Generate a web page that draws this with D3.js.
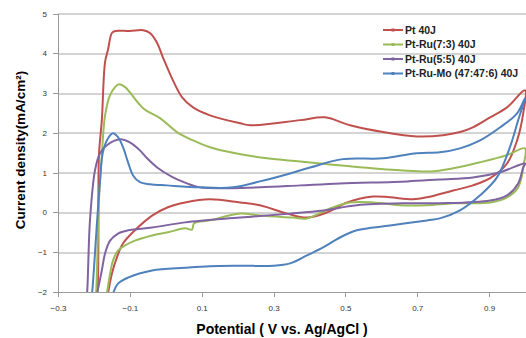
<!DOCTYPE html>
<html lang="ko">
<head>
    <meta charset="UTF-8">
    <title>CV curves</title>
    <script src="https://d3js.org/d3.v7.min.js"></script>
    <style>
        body { margin: 0; background: #fff; }
        svg { display: block; font-family: "Liberation Sans", Arial, sans-serif; }
        .axis path, .axis line { fill: none; stroke: #9a9a9a; shape-rendering: crispEdges; }
        .axis text { font-size: 8px; fill: #333; }
    </style>
</head>
<body>
<svg width="526" height="338"></svg>
<script>
    // potential (V) , current density (mA/cm2) - one closed sweep per sample
    const seriesNames = ["Pt 40J", "Pt-Ru(7:3) 40J", "Pt-Ru(5:5) 40J", "Pt-Ru-Mo (47:47:6) 40J"];
    const seriesColors = ["#c0504d", "#9bbb59", "#8064a2", "#4f81bd"];

    const pt40 = [
        [-0.197,-2.22],[-0.191,-2.02],[-0.186,1.44],[-0.178,2.32],[-0.169,3.78],[-0.161,4.08],[-0.150,4.51],
        [-0.141,4.56],[-0.100,4.56],[-0.063,4.58],[-0.044,4.51],[-0.024,4.26],[-0.008,3.90],[0.020,3.32],
        [0.045,2.90],[0.076,2.64],[0.123,2.44],[0.207,2.24],[0.235,2.19],[0.374,2.32],[0.443,2.39],
        [0.513,2.19],[0.605,2.02],[0.699,1.91],[0.772,1.94],[0.819,2.02],[0.855,2.14],[0.903,2.39],
        [0.950,2.64],[1.000,3.07],
        [0.995,2.49],[0.978,1.81],[0.950,1.23],[0.903,0.86],[0.855,0.68],[0.800,0.55],[0.727,0.38],
        [0.688,0.33],[0.624,0.38],[0.577,0.40],[0.505,0.25],[0.449,0.00],[0.393,-0.13],[0.338,-0.03],
        [0.262,0.18],[0.207,0.25],[0.123,0.33],[0.054,0.25],[0.006,0.13],[-0.038,-0.08],[-0.086,-0.45],
        [-0.119,-0.78],[-0.136,-1.13],[-0.150,-1.54],[-0.161,-2.04],[-0.165,-2.22]
    ];
    const ptRu73 = [
        [-0.197,-2.22],[-0.194,-2.02],[-0.186,0.30],[-0.178,1.44],[-0.169,2.44],[-0.155,2.95],[-0.141,3.15],
        [-0.130,3.22],[-0.113,3.15],[-0.100,3.02],[-0.063,2.62],[-0.016,2.37],[0.031,2.02],[0.076,1.81],
        [0.123,1.64],[0.187,1.50],[0.282,1.36],[0.374,1.28],[0.513,1.16],[0.652,1.06],
        [0.736,1.03],[0.800,1.11],[0.875,1.26],[0.950,1.44],[1.000,1.61],
        [0.997,1.23],[0.981,0.63],[0.950,0.38],[0.903,0.25],[0.800,0.23],[0.727,0.18],[0.652,0.18],
        [0.577,0.25],[0.513,0.25],[0.457,0.10],[0.393,-0.15],[0.354,-0.13],[0.262,-0.08],[0.207,-0.03],
        [0.123,-0.20],[0.079,-0.27],[0.073,-0.43],[0.054,-0.40],[0.006,-0.50],[-0.038,-0.58],
        [-0.086,-0.71],[-0.113,-0.83],[-0.133,-0.96],[-0.147,-1.21],[-0.155,-1.54],[-0.164,-2.04],[-0.167,-2.22]
    ];
    const ptRu55 = [
        [-0.222,-2.22],[-0.219,-2.02],[-0.211,-0.20],[-0.197,1.06],[-0.183,1.49],[-0.164,1.69],[-0.127,1.84],
        [-0.100,1.76],[-0.072,1.56],[-0.052,1.36],[-0.024,1.13],[0.020,0.88],[0.059,0.73],[0.095,0.63],
        [0.262,0.63],[0.374,0.68],[0.485,0.73],[0.672,0.78],[0.763,0.83],[0.855,0.88],[0.931,1.01],
        [1.000,1.23],
        [0.995,1.13],[0.981,0.73],[0.950,0.43],[0.903,0.30],[0.763,0.23],[0.672,0.23],[0.532,0.18],
        [0.438,0.05],[0.346,-0.03],[0.207,-0.13],[0.054,-0.25],[-0.038,-0.38],[-0.105,-0.45],
        [-0.133,-0.53],[-0.155,-0.71],[-0.169,-1.03],[-0.178,-1.46],[-0.191,-2.04],[-0.194,-2.22]
    ];
    const ptRuMo = [
        [-0.208,-2.22],[-0.205,-2.02],[-0.191,-0.20],[-0.183,0.80],[-0.175,1.51],[-0.161,1.86],[-0.147,1.99],
        [-0.133,1.89],[-0.119,1.64],[-0.105,1.26],[-0.091,0.93],[-0.072,0.76],[-0.044,0.71],[0.003,0.68],
        [0.095,0.63],[0.187,0.63],[0.262,0.78],[0.346,0.98],[0.402,1.13],[0.493,1.34],[0.605,1.36],
        [0.699,1.49],[0.763,1.51],[0.819,1.61],[0.875,1.81],[0.931,2.14],[0.978,2.49],[1.000,2.87],
        [0.981,2.32],[0.958,1.64],[0.922,0.88],[0.875,0.43],[0.819,0.05],[0.763,-0.15],[0.727,-0.20],
        [0.624,-0.33],[0.532,-0.45],[0.485,-0.63],[0.438,-0.88],[0.393,-1.08],[0.346,-1.28],
        [0.299,-1.34],[0.207,-1.34],[0.123,-1.35],[0.054,-1.39],[-0.038,-1.46],[-0.105,-1.64],
        [-0.133,-1.79],[-0.147,-2.04],[-0.153,-2.22]
    ];
    const seriesData = [pt40, ptRu73, ptRu55, ptRuMo];

    const xTicks = [-0.3, -0.1, 0.1, 0.3, 0.5, 0.7, 0.9];
    const yTicks = [-2, -1, 0, 1, 2, 3, 4, 5];

    const svg = d3.select("svg");
    const margin = {top: 13.5, right: 0, bottom: 46, left: 58};
    const width = +svg.attr("width") - margin.left - margin.right;
    const height = +svg.attr("height") - margin.top - margin.bottom;
    const g = svg.append("g").attr("transform", `translate(${margin.left},${margin.top})`);

    const x = d3.scaleLinear().domain([-0.3, 1.0]).range([0, width - 1]);
    const y = d3.scaleLinear().domain([-2, 5]).range([height, 0]);

    // gridlines
    g.append("g")
        .selectAll("line")
        .data(yTicks.slice(1))
        .enter().append("line")
        .attr("x1", 0).attr("x2", width)
        .attr("y1", d => Math.round(y(d)) + 0.5)
        .attr("y2", d => Math.round(y(d)) + 0.5)
        .attr("stroke", "#a8a8a8");

    g.append("g")
        .attr("class", "axis")
        .attr("transform", `translate(0,${height})`)
        .call(d3.axisBottom(x).tickValues(xTicks).tickSize(5).tickSizeOuter(0).tickPadding(8)
            .tickFormat(d3.format(".1f")));

    g.append("g")
        .attr("class", "axis")
        .call(d3.axisLeft(y).tickValues(yTicks).tickSize(5).tickSizeOuter(0).tickPadding(6)
            .tickFormat(d3.format("d")));

    g.selectAll(".axis text").style("font-family", "'Liberation Sans', Arial, sans-serif");

    // curves, clipped to the plot area
    g.append("clipPath").attr("id", "plotClip")
        .append("rect").attr("width", width).attr("height", height);

    const line = d3.line()
        .x(d => x(d[0]))
        .y(d => y(d[1]))
        .curve(d3.curveCatmullRom.alpha(0.5));

    g.append("g").attr("clip-path", "url(#plotClip)")
        .selectAll("path")
        .data(seriesData)
        .enter().append("path")
        .attr("d", line)
        .attr("fill", "none")
        .attr("stroke", (d, i) => seriesColors[i])
        .attr("stroke-width", 2)
        .attr("stroke-linejoin", "round");

    // legend
    const legend = svg.append("g").attr("transform", "translate(383,30)");
    const item = legend.selectAll("g")
        .data(seriesNames)
        .enter().append("g")
        .attr("transform", (d, i) => `translate(0,${i * 14.5})`);
    item.append("line")
        .attr("x1", 0).attr("x2", 20)
        .attr("stroke", (d, i) => seriesColors[i])
        .attr("stroke-width", 2);
    item.append("rect")
        .attr("x", 8.5).attr("y", -1.5).attr("width", 3).attr("height", 3)
        .attr("fill", (d, i) => seriesColors[i]);
    item.append("text")
        .attr("x", 22)
        .attr("dy", "0.35em")
        .style("font-size", "10.5px")
        .style("font-weight", "bold")
        .attr("fill", "#222")
        .text(d => d);

    // axis titles
    svg.append("text")
        .attr("x", 282).attr("y", 334)
        .attr("text-anchor", "middle")
        .style("font-size", "14px")
        .style("font-weight", "bold")
        .text("Potential ( V vs. Ag/AgCl )");

    svg.append("text")
        .attr("transform", "translate(25,150) rotate(-90)")
        .attr("text-anchor", "middle")
        .style("font-size", "13.5px")
        .style("font-weight", "bold")
        .text("Current density(mA/cm²)");
</script>
</body>
</html>
